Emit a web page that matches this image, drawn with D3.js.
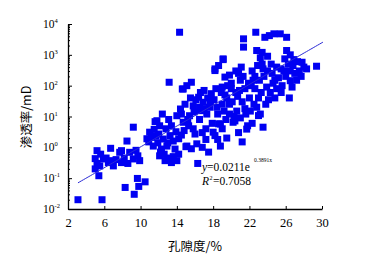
<!DOCTYPE html>
<html>
<head>
<meta charset="utf-8">
<script src="https://cdn.jsdelivr.net/npm/d3@7"></script>
<style>
body { margin: 0; background: #fff; }
svg text { font-family: "Liberation Serif", "Times New Roman", serif; }
</style>
</head>
<body>
<script>
var w = 373;
var h = 258;

// porosity (%) and permeability (mD)
var porosity = [
 3.1, 5.75, 5.2, 6.7, 9.2, 8.5, 7.9, 5.0, 5.2, 5.5, 5.0, 5.9, 5.4, 6.8, 7.3, 7.9, 8.2, 8.8, 9.7, 9.9,
 9.2, 8.3, 9.3, 9.65, 9.8, 10.5, 6.45, 7.7, 6.2, 8.6, 7.0, 9.5, 5.6,
 10.7, 11.2, 11.0, 11.6, 11.4, 11.7, 10.9, 11.8, 12.1, 12.0, 12.5, 12.3, 12.1, 12.7, 13.4, 14.0, 13.8, 13.25,
 13.4, 14.0, 13.15, 12.8, 13.0, 12.4, 13.6, 12.6, 13.1, 13.9, 11.5, 12.9,
 12.2, 13.0, 13.6, 12.9, 14.2, 11.9,
 14.3, 14.4, 14.7, 15.1, 16.2, 16.0, 15.4, 15.8, 16.9, 16.6, 14.6, 15.1, 15.6, 14.7, 16.4, 17.0, 15.0, 14.2,
 15.6, 14.8, 15.3, 16.5, 17.3, 17.6, 16.1, 17.4, 17.8, 14.9, 15.5, 16.8, 17.2, 17.9, 16.3, 15.9, 17.0, 14.5,
 16.6, 17.7, 15.2, 16.8, 17.5, 17.2, 14.5, 15.8, 16.5,
 18.0, 18.8, 18.8, 18.2, 19.1, 18.6, 19.1, 18.2, 19.3, 18.6, 18.2, 20.4, 19.0, 19.5, 20.0, 20.5, 21.0, 21.5,
 18.4, 19.2, 19.8, 20.3, 21.2, 21.7, 20.2, 21.8, 21.35, 21.35, 20.8, 21.3, 18.9, 19.6, 20.7, 21.5, 18.5, 19.4,
 20.1, 20.9, 21.9, 19.8, 20.5, 21.1, 18.1, 19.0, 21.6, 20.6, 19.3, 20.0,
 19.5, 20.8, 21.2, 19.0, 21.0, 18.5, 18.3, 19.8,
 22.7, 23.7, 24.7, 25.4, 26.1, 22.8, 23.4, 26.1, 23.4, 25.9, 24.2, 22.5, 23.0, 23.2, 22.0, 22.6, 23.1, 23.6,
 24.0, 24.5, 25.0, 25.5, 24.3, 25.6, 26.0, 24.8, 22.3, 22.9, 23.9, 24.6, 25.2, 22.4, 23.3, 24.1, 23.8, 22.2,
 25.0, 25.8, 24.4, 23.5, 22.6, 22.1, 23.0,
 22.3, 23.5, 22.8, 24.8, 25.5, 23.2, 24.0,
 26.5, 27.8, 29.4, 27.3, 26.8, 26.5, 27.0, 27.5, 28.0, 26.3, 27.2, 26.7, 28.3, 26.9, 26.4, 27.7, 26.5
];
var permeability = [
 0.02, 0.02, 0.78, 0.93, 4.5, 1.6, 0.78, 0.43, 0.3, 0.25, 0.2, 0.42, 0.12, 0.37, 0.4, 0.32, 0.45, 0.69, 0.53, 0.37,
 0.42, 0.05, 0.03, 0.098, 0.054, 0.076, 0.32, 0.69, 0.45, 0.3, 0.25, 0.8, 0.6,
 1.9, 2.1, 3.1, 6.8, 1.1, 2.3, 1.5, 7.3, 5, 2.7, 1.86, 0.88, 0.53, 0.37, 0.32, 0.37, 0.88, 2.4,
 5, 10.6, 129, 4, 1.4, 12, 1.6, 0.6, 8, 3.2, 3.8, 0.45,
 0.7, 0.4, 0.5, 1.1, 0.6, 1.4,
 5400, 17.5, 6.5, 1.1, 1.3, 2.7, 10.6, 22, 29, 15.5, 78, 100, 129, 78, 42, 70, 1.05, 1.9,
 0.9, 3.5, 5, 8, 12, 20, 35, 40, 55, 25, 40, 3, 1.8, 6, 0.3, 14, 18, 12,
 60, 30, 8, 1.0, 0.7, 4, 2.5, 4, 20,
 3.1, 1.1, 5.7, 309, 700, 450, 740, 350, 190, 5.8, 2.4, 7.2, 90, 40, 120, 60, 150, 80,
 20, 15, 25, 10, 30, 3.9, 6.5, 5, 3300, 1780, 250, 200, 60, 100, 45, 18, 12, 8,
 30, 70, 120, 220, 300, 400, 35, 25, 12, 15, 50, 80,
 2, 3, 1.5, 4, 9, 1.8, 80, 12,
 5400, 3700, 4800, 4800, 3700, 1380, 1200, 1380, 500, 740, 4200, 25, 10.7, 12, 40, 80, 150, 200,
 300, 250, 400, 350, 60, 100, 200, 150, 300, 450, 90, 120, 180, 150, 60, 35, 25, 100,
 80, 300, 500, 350, 200, 15, 40,
 6, 4.5, 20, 40, 60, 800, 900,
 145, 575, 427, 600, 450, 300, 250, 300, 400, 500, 150, 90, 350, 700, 40, 200, 1000
];

var xTicks = [2, 6, 10, 14, 18, 22, 26, 30];
var yExponents = [-2, -1, 0, 1, 2, 3, 4];
var fitA = 0.0211;
var fitB = 0.3891;
var fitRange = [3.1, 30.1];

var data = porosity.map(function(d, i) { return [d, permeability[i]]; });

var xScale = d3.scaleLinear()
    .domain([2, 30])
    .range([68, 322]);

var yScale = d3.scaleLog()
    .domain([0.01, 10000])
    .range([209, 24]);

var svg = d3.select("body")
    .append("svg")
    .attr("width", w)
    .attr("height", h);

// points
var sz = 7;
svg.append("g")
    .selectAll("rect")
    .data(data)
    .enter()
    .append("rect")
    .attr("x", function(d) { return xScale(d[0]) - sz / 2; })
    .attr("y", function(d) { return yScale(d[1]) - sz / 2; })
    .attr("width", sz)
    .attr("height", sz)
    .attr("fill", "#0000f2");

// trend line
var fitPts = d3.range(fitRange[0], fitRange[1] + 0.01, 0.2).map(function(x) {
    return [x, fitA * Math.exp(fitB * x)];
});
svg.append("path")
    .datum(fitPts)
    .attr("fill", "none")
    .attr("stroke", "#2a2ad6")
    .attr("stroke-width", 1)
    .attr("d", d3.line()
        .x(function(d) { return xScale(d[0]); })
        .y(function(d) { return yScale(d[1]); }));

// x axis
var xAxis = d3.axisBottom(xScale)
    .tickValues(xTicks)
    .tickSizeInner(-3)
    .tickSizeOuter(0)
    .tickPadding(9)
    .tickFormat(d3.format("d"));

var gx = svg.append("g")
    .attr("transform", "translate(0," + 209 + ")")
    .call(xAxis);
gx.select(".domain").attr("stroke", "#000").attr("stroke-width", 1.3);
gx.selectAll("text").attr("font-size", 12.5).attr("fill", "#000")
    .style("font-family", "'Liberation Serif', serif");

// y axis: major and minor ticks, drawn inward
var minor = [];
yExponents.slice(0, -1).forEach(function(e) {
    for (var m = 2; m <= 9; m++) minor.push(m * Math.pow(10, e));
});
var gyMinor = svg.append("g")
    .attr("transform", "translate(68,0)")
    .call(d3.axisLeft(yScale).tickValues(minor).tickSizeInner(-2).tickSizeOuter(0).tickFormat(""));
gyMinor.select(".domain").remove();

var gy = svg.append("g")
    .attr("transform", "translate(68,0)")
    .call(d3.axisLeft(yScale)
        .tickValues(yExponents.map(function(e) { return Math.pow(10, e); }))
        .tickSizeInner(-4)
        .tickSizeOuter(0)
        .tickFormat(""));
gy.select(".domain").attr("stroke", "#000").attr("stroke-width", 1.3);

// y tick labels 10^n
var ylab = svg.append("g").selectAll("text")
    .data(yExponents)
    .enter()
    .append("text")
    .attr("x", 43)
    .attr("y", function(d) { return yScale(Math.pow(10, d)) + 4; })
    .attr("font-size", 11.5)
    .text("10");
ylab.append("tspan")
    .attr("dy", -5)
    .attr("font-size", 6.5)
    .text(function(d) { return d; });

// axis titles
svg.append("text")
    .attr("x", 195)
    .attr("y", 251)
    .attr("text-anchor", "middle")
    .attr("font-size", 12.5)
    .style("font-family", "'Noto Sans CJK SC', sans-serif")
    .text("孔隙度/%");

svg.append("text")
    .attr("transform", "translate(31,117) rotate(-90)")
    .attr("text-anchor", "middle")
    .attr("font-size", 12.5)
    .style("font-family", "'Noto Sans CJK SC', sans-serif")
    .text("渗透率/mD");

// equation, pieces as separate texts
var eq = svg.append("text")
    .attr("x", 202)
    .attr("y", 171)
    .attr("font-size", 11.5);
eq.append("tspan").attr("font-style", "italic").text("y");
eq.append("tspan").text("=0.0211e");

svg.append("text")
    .attr("x", 254)
    .attr("y", 162)
    .attr("font-size", 5.5)
    .text("0.3891x");

svg.append("text")
    .attr("x", 202)
    .attr("y", 184.5)
    .attr("font-size", 11.5)
    .attr("font-style", "italic")
    .text("R");
svg.append("text")
    .attr("x", 209.5)
    .attr("y", 179.5)
    .attr("font-size", 6)
    .text("2");
svg.append("text")
    .attr("x", 213)
    .attr("y", 184.5)
    .attr("font-size", 11.5)
    .text("=0.7058");
</script>
</body>
</html>
